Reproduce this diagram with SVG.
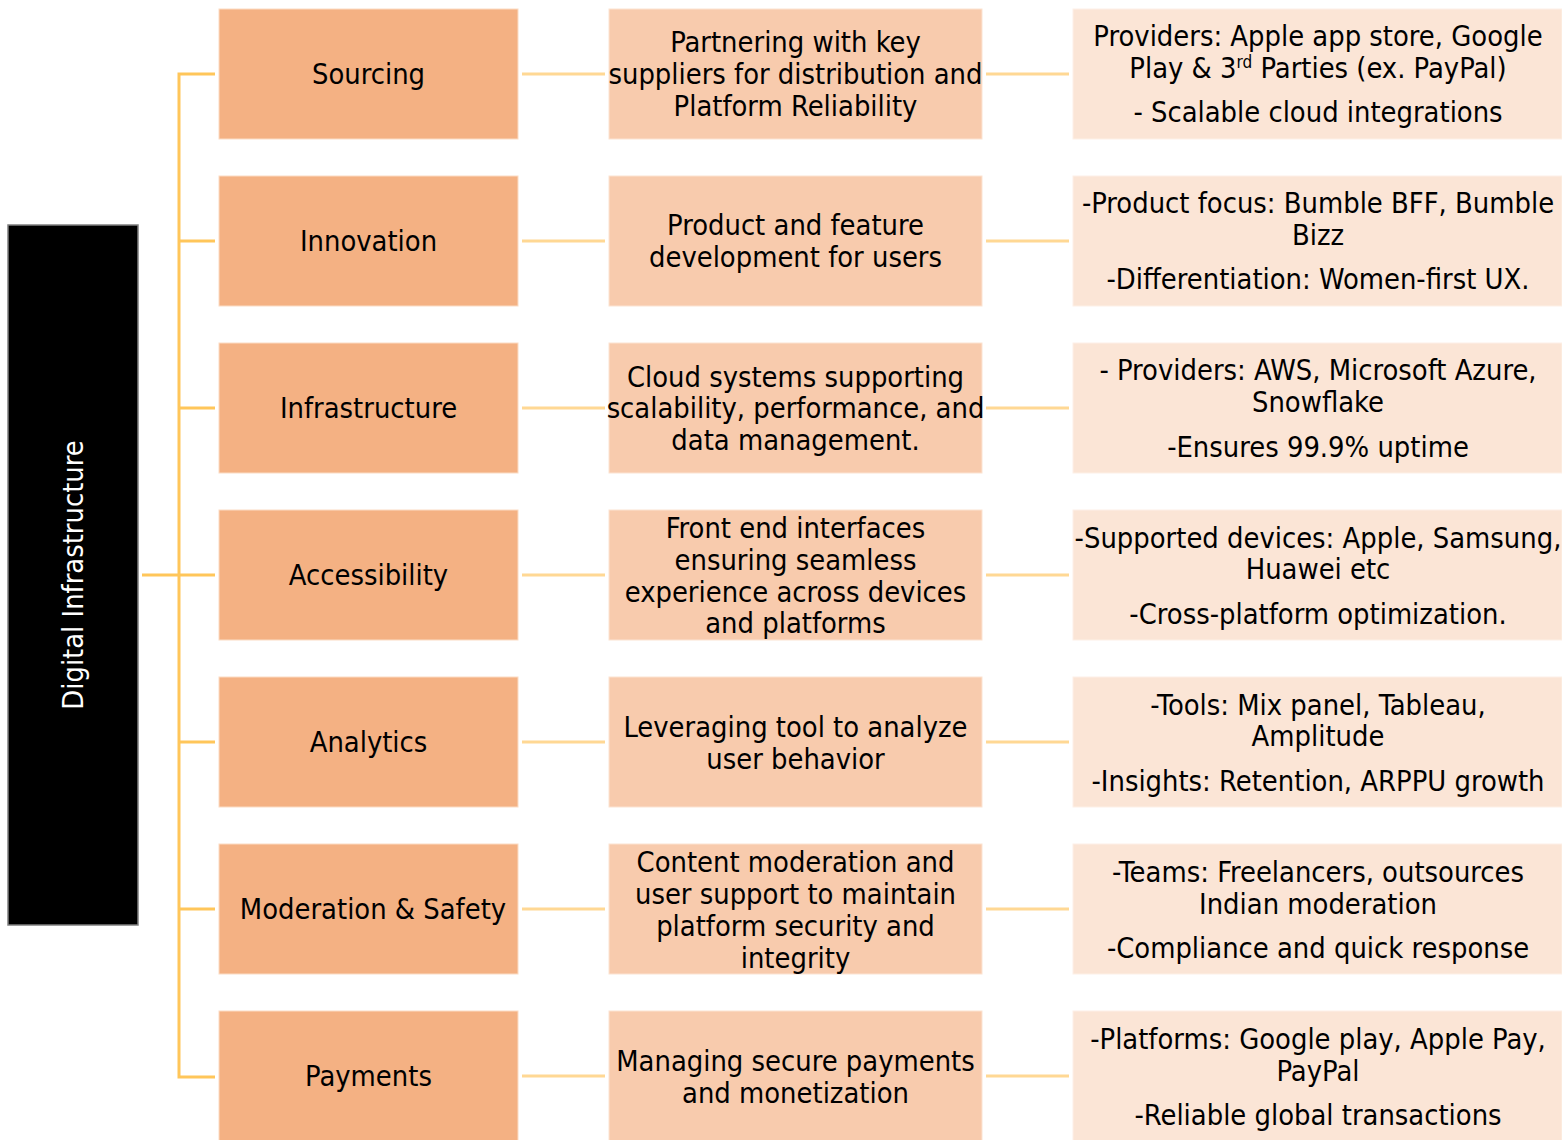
<svg xmlns="http://www.w3.org/2000/svg" width="1562" height="1140" viewBox="0 0 1562 1140">
  <style>
    text { font-family: "DejaVu Sans Condensed", "DejaVu Sans", sans-serif; font-size: 28.8px; fill: #000; text-anchor: middle; }
    .root { fill: #000; stroke: #7f7f7f; stroke-width: 1.5; }
    .root-label { fill: #fff; }
    .cat { fill: #F4B183; stroke: #FBDCC4; stroke-width: 1; }
    .desc { fill: #F8CBAD; stroke: #FCE3D2; stroke-width: 1; }
    .detail { fill: #FBE5D6; stroke: #FDF0E7; stroke-width: 1; }
    .trunk { fill: none; stroke: #FFC65A; stroke-width: 3; }
    .link { fill: none; stroke: #FFD894; stroke-width: 3; }
    .sup { font-size: 17px; }
  </style>

  <!-- connectors -->
  <g id="connectors">
    <path class="trunk" d="M215 74 H179 V1077 H215"/>
    <path class="trunk" d="M142 575 H215"/>
    <path class="trunk" d="M179 241 H215 M179 408 H215 M179 742 H215 M179 909 H215"/>
    <path class="link" d="M522 74 H605 M522 241 H605 M522 408 H605 M522 575 H605 M522 742 H605 M522 909 H605 M522 1076 H605"/>
    <path class="link" d="M986 74 H1069 M986 241 H1069 M986 408 H1069 M986 575 H1069 M986 742 H1069 M986 909 H1069 M986 1076 H1069"/>
  </g>

  <!-- root -->
  <g id="digital-infrastructure">
    <rect class="root" x="8" y="225" width="130" height="700"/>
    <text class="root-label" transform="translate(73,575) rotate(-90)" x="0" y="10">Digital Infrastructure</text>
  </g>

  <!-- row: sourcing -->
  <g id="sourcing">
    <rect class="cat" x="219" y="9" width="299" height="130"/>
    <text x="368.5" y="84">Sourcing</text>
  </g>
  <g id="sourcing-desc">
    <rect class="desc" x="609" y="9" width="373" height="130"/>
    <text x="795.5" y="52">Partnering with key</text>
    <text x="795.5" y="84">suppliers for distribution and</text>
    <text x="795.5" y="116">Platform Reliability</text>
  </g>
  <g id="sourcing-detail">
    <rect class="detail" x="1073" y="9" width="489" height="130"/>
    <text x="1318" y="46">Providers: Apple app store, Google</text>
    <text x="1318" y="78">Play &amp; 3<tspan class="sup" dy="-10">rd</tspan><tspan dy="10"> Parties (ex. PayPal)</tspan></text>
    <text x="1318" y="122">- Scalable cloud integrations</text>
  </g>

  <!-- row: innovation -->
  <g id="innovation">
    <rect class="cat" x="219" y="176" width="299" height="130"/>
    <text x="368.5" y="251">Innovation</text>
  </g>
  <g id="innovation-desc">
    <rect class="desc" x="609" y="176" width="373" height="130"/>
    <text x="795.5" y="235">Product and feature</text>
    <text x="795.5" y="267">development for users</text>
  </g>
  <g id="innovation-detail">
    <rect class="detail" x="1073" y="176" width="489" height="130"/>
    <text x="1318" y="213">-Product focus: Bumble BFF, Bumble</text>
    <text x="1318" y="245">Bizz</text>
    <text x="1318" y="289">-Differentiation: Women-first UX.</text>
  </g>

  <!-- row: infrastructure -->
  <g id="infrastructure">
    <rect class="cat" x="219" y="343" width="299" height="130"/>
    <text x="368.5" y="418">Infrastructure</text>
  </g>
  <g id="infrastructure-desc">
    <rect class="desc" x="609" y="343" width="373" height="130"/>
    <text x="795.5" y="387">Cloud systems supporting</text>
    <text x="795.5" y="418">scalability, performance, and</text>
    <text x="795.5" y="450">data management.</text>
  </g>
  <g id="infrastructure-detail">
    <rect class="detail" x="1073" y="343" width="489" height="130"/>
    <text x="1318" y="380">- Providers: AWS, Microsoft Azure,</text>
    <text x="1318" y="412">Snowflake</text>
    <text x="1318" y="457">-Ensures 99.9% uptime</text>
  </g>

  <!-- row: accessibility -->
  <g id="accessibility">
    <rect class="cat" x="219" y="510" width="299" height="130"/>
    <text x="368.5" y="585">Accessibility</text>
  </g>
  <g id="accessibility-desc">
    <rect class="desc" x="609" y="510" width="373" height="130"/>
    <text x="795.5" y="538">Front end interfaces</text>
    <text x="795.5" y="570">ensuring seamless</text>
    <text x="795.5" y="602">experience across devices</text>
    <text x="795.5" y="633">and platforms</text>
  </g>
  <g id="accessibility-detail">
    <rect class="detail" x="1073" y="510" width="489" height="130"/>
    <text x="1318" y="548">-Supported devices: Apple, Samsung,</text>
    <text x="1318" y="579">Huawei etc</text>
    <text x="1318" y="624">-Cross-platform optimization.</text>
  </g>

  <!-- row: analytics -->
  <g id="analytics">
    <rect class="cat" x="219" y="677" width="299" height="130"/>
    <text x="368.5" y="752">Analytics</text>
  </g>
  <g id="analytics-desc">
    <rect class="desc" x="609" y="677" width="373" height="130"/>
    <text x="795.5" y="737">Leveraging tool to analyze</text>
    <text x="795.5" y="769">user behavior</text>
  </g>
  <g id="analytics-detail">
    <rect class="detail" x="1073" y="677" width="489" height="130"/>
    <text x="1318" y="715">-Tools: Mix panel, Tableau,</text>
    <text x="1318" y="746">Amplitude</text>
    <text x="1318" y="791">-Insights: Retention, ARPPU growth</text>
  </g>

  <!-- row: moderation & safety -->
  <g id="moderation-safety">
    <rect class="cat" x="219" y="844" width="299" height="130"/>
    <text x="373" y="919">Moderation &amp; Safety</text>
  </g>
  <g id="moderation-safety-desc">
    <rect class="desc" x="609" y="844" width="373" height="130"/>
    <text x="795.5" y="872">Content moderation and</text>
    <text x="795.5" y="904">user support to maintain</text>
    <text x="795.5" y="936">platform security and</text>
    <text x="795.5" y="968">integrity</text>
  </g>
  <g id="moderation-safety-detail">
    <rect class="detail" x="1073" y="844" width="489" height="130"/>
    <text x="1318" y="882">-Teams: Freelancers, outsources</text>
    <text x="1318" y="914">Indian moderation</text>
    <text x="1318" y="958">-Compliance and quick response</text>
  </g>

  <!-- row: payments -->
  <g id="payments">
    <rect class="cat" x="219" y="1011" width="299" height="130"/>
    <text x="368.5" y="1086">Payments</text>
  </g>
  <g id="payments-desc">
    <rect class="desc" x="609" y="1011" width="373" height="130"/>
    <text x="795.5" y="1071">Managing secure payments</text>
    <text x="795.5" y="1103">and monetization</text>
  </g>
  <g id="payments-detail">
    <rect class="detail" x="1073" y="1011" width="489" height="130"/>
    <text x="1318" y="1049">-Platforms: Google play, Apple Pay,</text>
    <text x="1318" y="1081">PayPal</text>
    <text x="1318" y="1125">-Reliable global transactions</text>
  </g>
</svg>
